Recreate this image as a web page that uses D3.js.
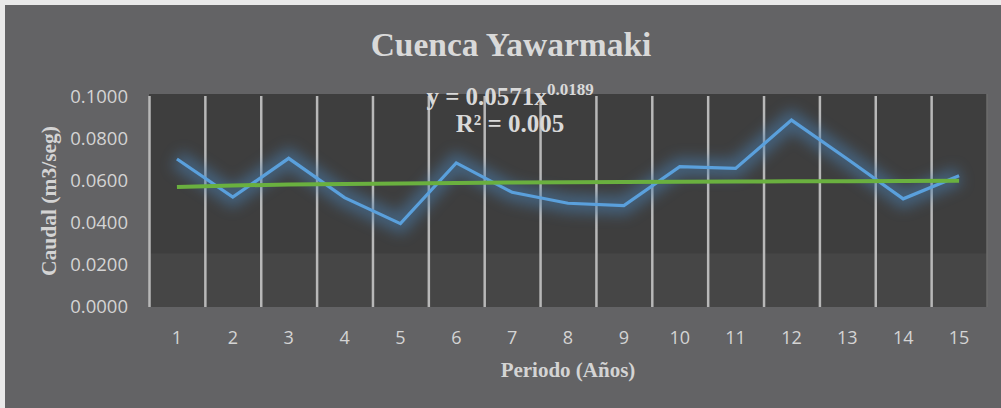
<!DOCTYPE html>
<html>
<head>
<meta charset="utf-8">
<script src="https://cdn.jsdelivr.net/npm/d3@7"></script>
<style>
  html, body { margin: 0; padding: 0; background: #e9e9e9; }
  svg { display: block; }
</style>
</head>
<body>
<script>
// values
var periods = [1, 2, 3, 4, 5, 6, 7, 8, 9, 10, 11, 12, 13, 14, 15];
var caudal  = [0.0705, 0.0523, 0.0708, 0.0521, 0.0397, 0.0686, 0.0546, 0.0494,
               0.0483, 0.0668, 0.0660, 0.0890, 0.0705, 0.0515, 0.0625];
var yTicks  = [0, 0.02, 0.04, 0.06, 0.08, 0.10];
// power trendline shown on the chart: y = a * x^b
var trendA = 0.0571, trendB = 0.0189;

var W = 1001, H = 408;
var serif = "'Liberation Serif', 'Times New Roman', serif";

var svg = d3.select("body").append("svg")
            .attr("width", W)
            .attr("height", H);

// chart background (light frame on top/left)
svg.append("rect")
   .attr("x", 5).attr("y", 5)
   .attr("width", W - 5).attr("height", H - 5)
   .attr("fill", "#636365");

var margin = {top: 94, right: 14, bottom: 101, left: 149},
    pw = W - margin.left - margin.right,
    ph = H - margin.top - margin.bottom;

var x = d3.scaleBand().domain(periods).range([0, pw]),
    y = d3.scaleLinear().domain([0, 0.1]).range([ph, 3]);

var g = svg.append("g")
           .attr("transform", "translate(" + margin.left + "," + margin.top + ")");

// plot area
g.append("rect")
 .attr("width", pw).attr("height", ph)
 .attr("fill", "#464646");
g.append("rect")
 .attr("width", pw).attr("height", y(0.0255))
 .attr("fill", "#3e3e3e");
g.append("line")
 .attr("x1", pw).attr("x2", pw)
 .attr("y1", 0).attr("y2", ph)
 .attr("stroke", "#6c6c6c").attr("stroke-width", 1.5);

// vertical separators at category boundaries
g.selectAll(".sep")
 .data(periods)
 .enter().append("line")
 .attr("class", "sep")
 .attr("x1", function(d) { return x(d) + 0.5; })
 .attr("x2", function(d) { return x(d) + 0.5; })
 .attr("y1", 2).attr("y2", ph)
 .attr("stroke", "#b8b8b8")
 .attr("stroke-width", 2.5);

// y axis labels
g.append("g")
 .call(d3.axisLeft(y).tickValues(yTicks).tickFormat(d3.format(".4f")).tickSize(0).tickPadding(21))
 .call(function(a) { a.select(".domain").remove(); })
 .selectAll("text")
 .attr("fill", "#d4d4d4")
 .style("font-family", "'Open Sans', sans-serif")
 .style("font-size", "18.5px");

// x axis labels
g.append("g")
 .attr("transform", "translate(0," + ph + ")")
 .call(d3.axisBottom(x).tickSize(0).tickPadding(24))
 .call(function(a) { a.select(".domain").remove(); })
 .selectAll("text")
 .attr("fill", "#d4d4d4")
 .style("font-family", "'Open Sans', sans-serif")
 .style("font-size", "18px");

var cx = function(d, i) { return x(periods[i]) + x.bandwidth() / 2; };

// glow
var defs = svg.append("defs");
defs.append("filter").attr("id", "glow")
    .attr("x", "-10%").attr("y", "-50%").attr("width", "120%").attr("height", "200%")
    .append("feGaussianBlur").attr("stdDeviation", 7);

var line = d3.line()
             .x(cx)
             .y(function(d) { return y(d); });

g.append("path")
 .datum(caudal)
 .attr("d", line)
 .attr("fill", "none")
 .attr("stroke", "#4a7fb0")
 .attr("stroke-width", 18)
 .attr("opacity", 0.55)
 .attr("filter", "url(#glow)");

g.append("path")
 .datum(caudal)
 .attr("d", line)
 .attr("fill", "none")
 .attr("stroke", "#5aa0dc")
 .attr("stroke-width", 3.2)
 .attr("stroke-linejoin", "miter");

// trendline
var trend = periods.map(function(p) { return trendA * Math.pow(p, trendB); });
g.append("path")
 .datum(trend)
 .attr("d", line)
 .attr("fill", "none")
 .attr("stroke", "#6ab03f")
 .attr("stroke-width", 4);

// title
svg.append("text")
   .attr("x", 511).attr("y", 56)
   .attr("text-anchor", "middle")
   .attr("fill", "#d9d9d9")
   .style("font-family", serif)
   .style("font-weight", "bold")
   .style("font-size", "33.5px")
   .text("Cuenca Yawarmaki");

// trendline equation
var eq = svg.append("text")
   .attr("x", 510).attr("y", 105)
   .attr("text-anchor", "middle")
   .attr("fill", "#d9d9d9")
   .style("font-family", serif)
   .style("font-weight", "bold")
   .style("font-size", "25px");
eq.append("tspan").text("y = 0.0571x");
eq.append("tspan").attr("dy", -10).style("font-size", "17px").text("0.0189");

svg.append("text")
   .attr("x", 510).attr("y", 132)
   .attr("text-anchor", "middle")
   .attr("fill", "#d9d9d9")
   .style("font-family", serif)
   .style("font-weight", "bold")
   .style("font-size", "25px")
   .text("R² = 0.005");

// axis titles
svg.append("text")
   .attr("transform", "translate(56,201) rotate(-90)")
   .attr("text-anchor", "middle")
   .attr("fill", "#d4d4d4")
   .style("font-family", serif)
   .style("font-weight", "bold")
   .style("font-size", "21.5px")
   .text("Caudal (m3/seg)");

svg.append("text")
   .attr("x", 568).attr("y", 377)
   .attr("text-anchor", "middle")
   .attr("fill", "#d4d4d4")
   .style("font-family", serif)
   .style("font-weight", "bold")
   .style("font-size", "21px")
   .text("Periodo (Años)");
</script>
</body>
</html>
